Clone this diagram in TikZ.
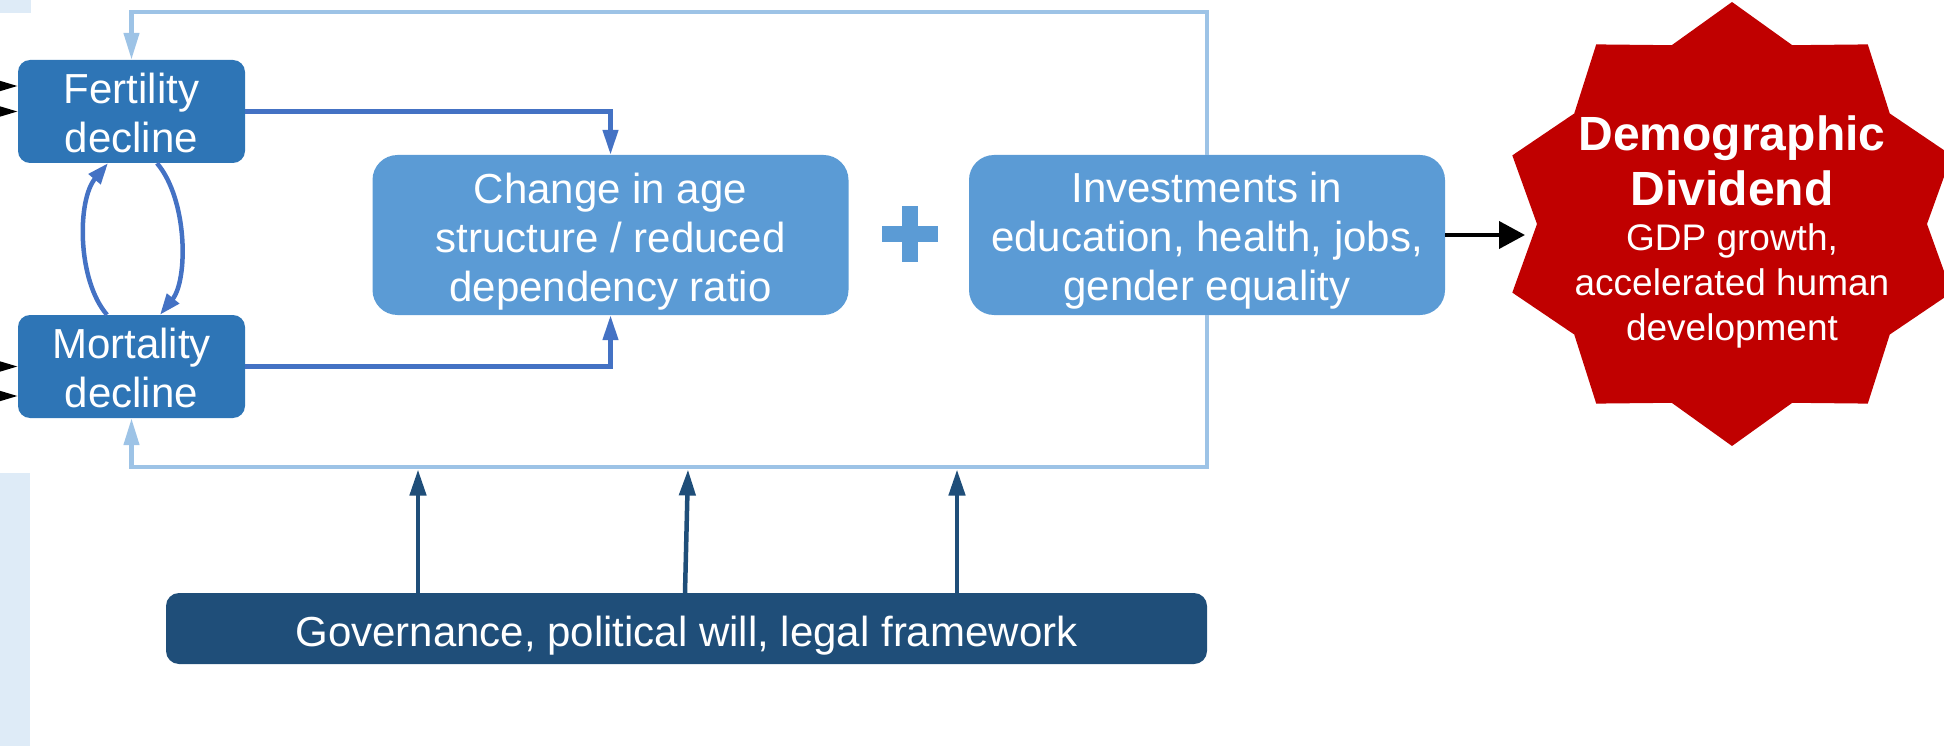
\documentclass[tikz,border=0pt]{standalone}
\usepackage{fontspec}
\setmainfont{Liberation Sans}
\usetikzlibrary{arrows.meta}
\definecolor{fmblue}{HTML}{2E75B6}
\definecolor{midblue}{HTML}{5B9BD5}
\definecolor{fbblue}{HTML}{9DC3E6}
\definecolor{arrblue}{HTML}{4472C4}
\definecolor{govblue}{HTML}{1F4E79}
\definecolor{ddred}{HTML}{C00000}
\definecolor{stripblue}{HTML}{DEEBF7}
\begin{document}
\begin{tikzpicture}[x=1pt,y=-1pt,
  fmbox/.style={fill=fmblue, rounded corners=12pt, minimum width=227pt, minimum height=103pt, inner sep=0pt},
  cbox/.style={fill=midblue, rounded corners=25pt, minimum width=476pt, minimum height=160pt, inner sep=0pt},
  govbox/.style={fill=govblue, rounded corners=13pt, minimum width=1041pt, minimum height=71pt, inner sep=0pt},
  lbl/.style={text=white, align=center, inner sep=0pt, font=\fontsize{42}{49}\selectfont},
  fbline/.style={draw=fbblue, line width=4.5pt, line join=miter, -{Triangle[length=27pt,width=15pt]}},
  midarrow/.style={draw=arrblue, line width=4.5pt, line join=miter, -{Triangle[length=25pt,width=15pt]}},
  curvearrow/.style={draw=arrblue, line width=4.5pt, -{Triangle[length=21pt,width=15pt]}},
  govarrow/.style={draw=govblue, line width=4.5pt, -{Triangle[length=26pt,width=16pt]}},
  blkin/.style={draw=black, line width=3pt, -{Triangle[length=22pt,width=12pt]}},
  blkout/.style={draw=black, line width=4pt, -{Triangle[length=26pt,width=27pt]}}
]
\useasboundingbox (0,0) rectangle (1944,746);
\clip (0,0) rectangle (1944,746);

% light background strips at the left edge
\fill[stripblue] (0,0) rectangle (31,13);
\fill[stripblue] (0,473) rectangle (30,746);

% boxes
\node[fmbox] (fert) at (131.5,111.5) {};
\node[fmbox] (mort) at (131.5,366.5) {};
\node[cbox] (age) at (610.5,235) {};
\node[cbox] (inv) at (1207,235) {};
\node[govbox] (gov) at (686.5,628.5) {};

% plus sign
\fill[midblue] (881.5,226.5) rectangle (937.5,242.5);
\fill[midblue] (901.5,206.5) rectangle (917.5,262);

% feedback loop
\coordinate (fbTop) at (1207,12);
\coordinate (fbBot) at (1207,467);
\draw[fbline] (inv.north) -- (fbTop) -| (fert.north);
\draw[fbline] (inv.south) -- (fbBot) -| (mort.south);

% fertility / mortality to age structure
\draw[midarrow] (fert.east) -| (age.north);
\draw[midarrow] (mort.east) -| (age.south);

% mutual curved arrows
\draw[curvearrow] ([xshift=-24.5pt]mort.north) .. controls (77,280) and (77,200) .. ([xshift=-23.5pt]fert.south);
\draw[curvearrow] ([xshift=25.5pt]fert.south) .. controls (188,200) and (188,280) .. ([xshift=28.5pt]mort.north);

% incoming black arrows at the left edge
\coordinate (inF1) at (-40,86);
\coordinate (inF2) at (-40,111.5);
\coordinate (inM1) at (-40,366.5);
\coordinate (inM2) at (-40,396);
\draw[blkin] (inF1) -- ([yshift=25.5pt]fert.west);
\draw[blkin] (inF2) -- (fert.west);
\draw[blkin] (inM1) -- (mort.west);
\draw[blkin] (inM2) -- ([yshift=-29.5pt]mort.west);

% governance arrows
\coordinate (g1) at (418,469.5);
\coordinate (g2) at (688,469.5);
\coordinate (g3) at (957,469.5);
\draw[govarrow] ([xshift=-268.5pt]gov.north) -- (g1);
\draw[govarrow] ([xshift=-1.5pt]gov.north) -- (g2);
\draw[govarrow] ([xshift=270.5pt]gov.north) -- (g3);

% demographic dividend star
\begin{scope}[shift={(1732,224)}]
\fill[ddred] (90:231 and 222)
  \foreach \k in {0,...,9} { -- ({108+36*\k}:195 and 188) -- ({126+36*\k}:231 and 222) } -- cycle;
\end{scope}
\coordinate (ddin) at (1525,235);
\draw[blkout] (inv.east) -- (ddin);

% labels
\node[lbl] (fertT) at (131.5,113) {Fertility\\decline};
\node[lbl] (mortT) at (131.5,367.5) {Mortality\\decline};
\node[lbl] (ageT) at (610.5,242) {Change in age\\structure / reduced\\dependency ratio};
\node[lbl] (invT) at (1207,240.5) {Investments in\\education, health, jobs,\\gender equality};
\node[lbl] (govT) at (686.5,636) {Governance, political will, legal framework};
\node[text=white, align=center, inner sep=0pt, font=\fontsize{48}{55}\selectfont\bfseries] (ddTitle) at (1732,160.5) {Demographic\\Dividend};
\node[text=white, align=center, inner sep=0pt, font=\fontsize{37}{45}\selectfont] (ddSub) at (1732,286) {GDP growth,\\accelerated human\\development};
\end{tikzpicture}
\end{document}
